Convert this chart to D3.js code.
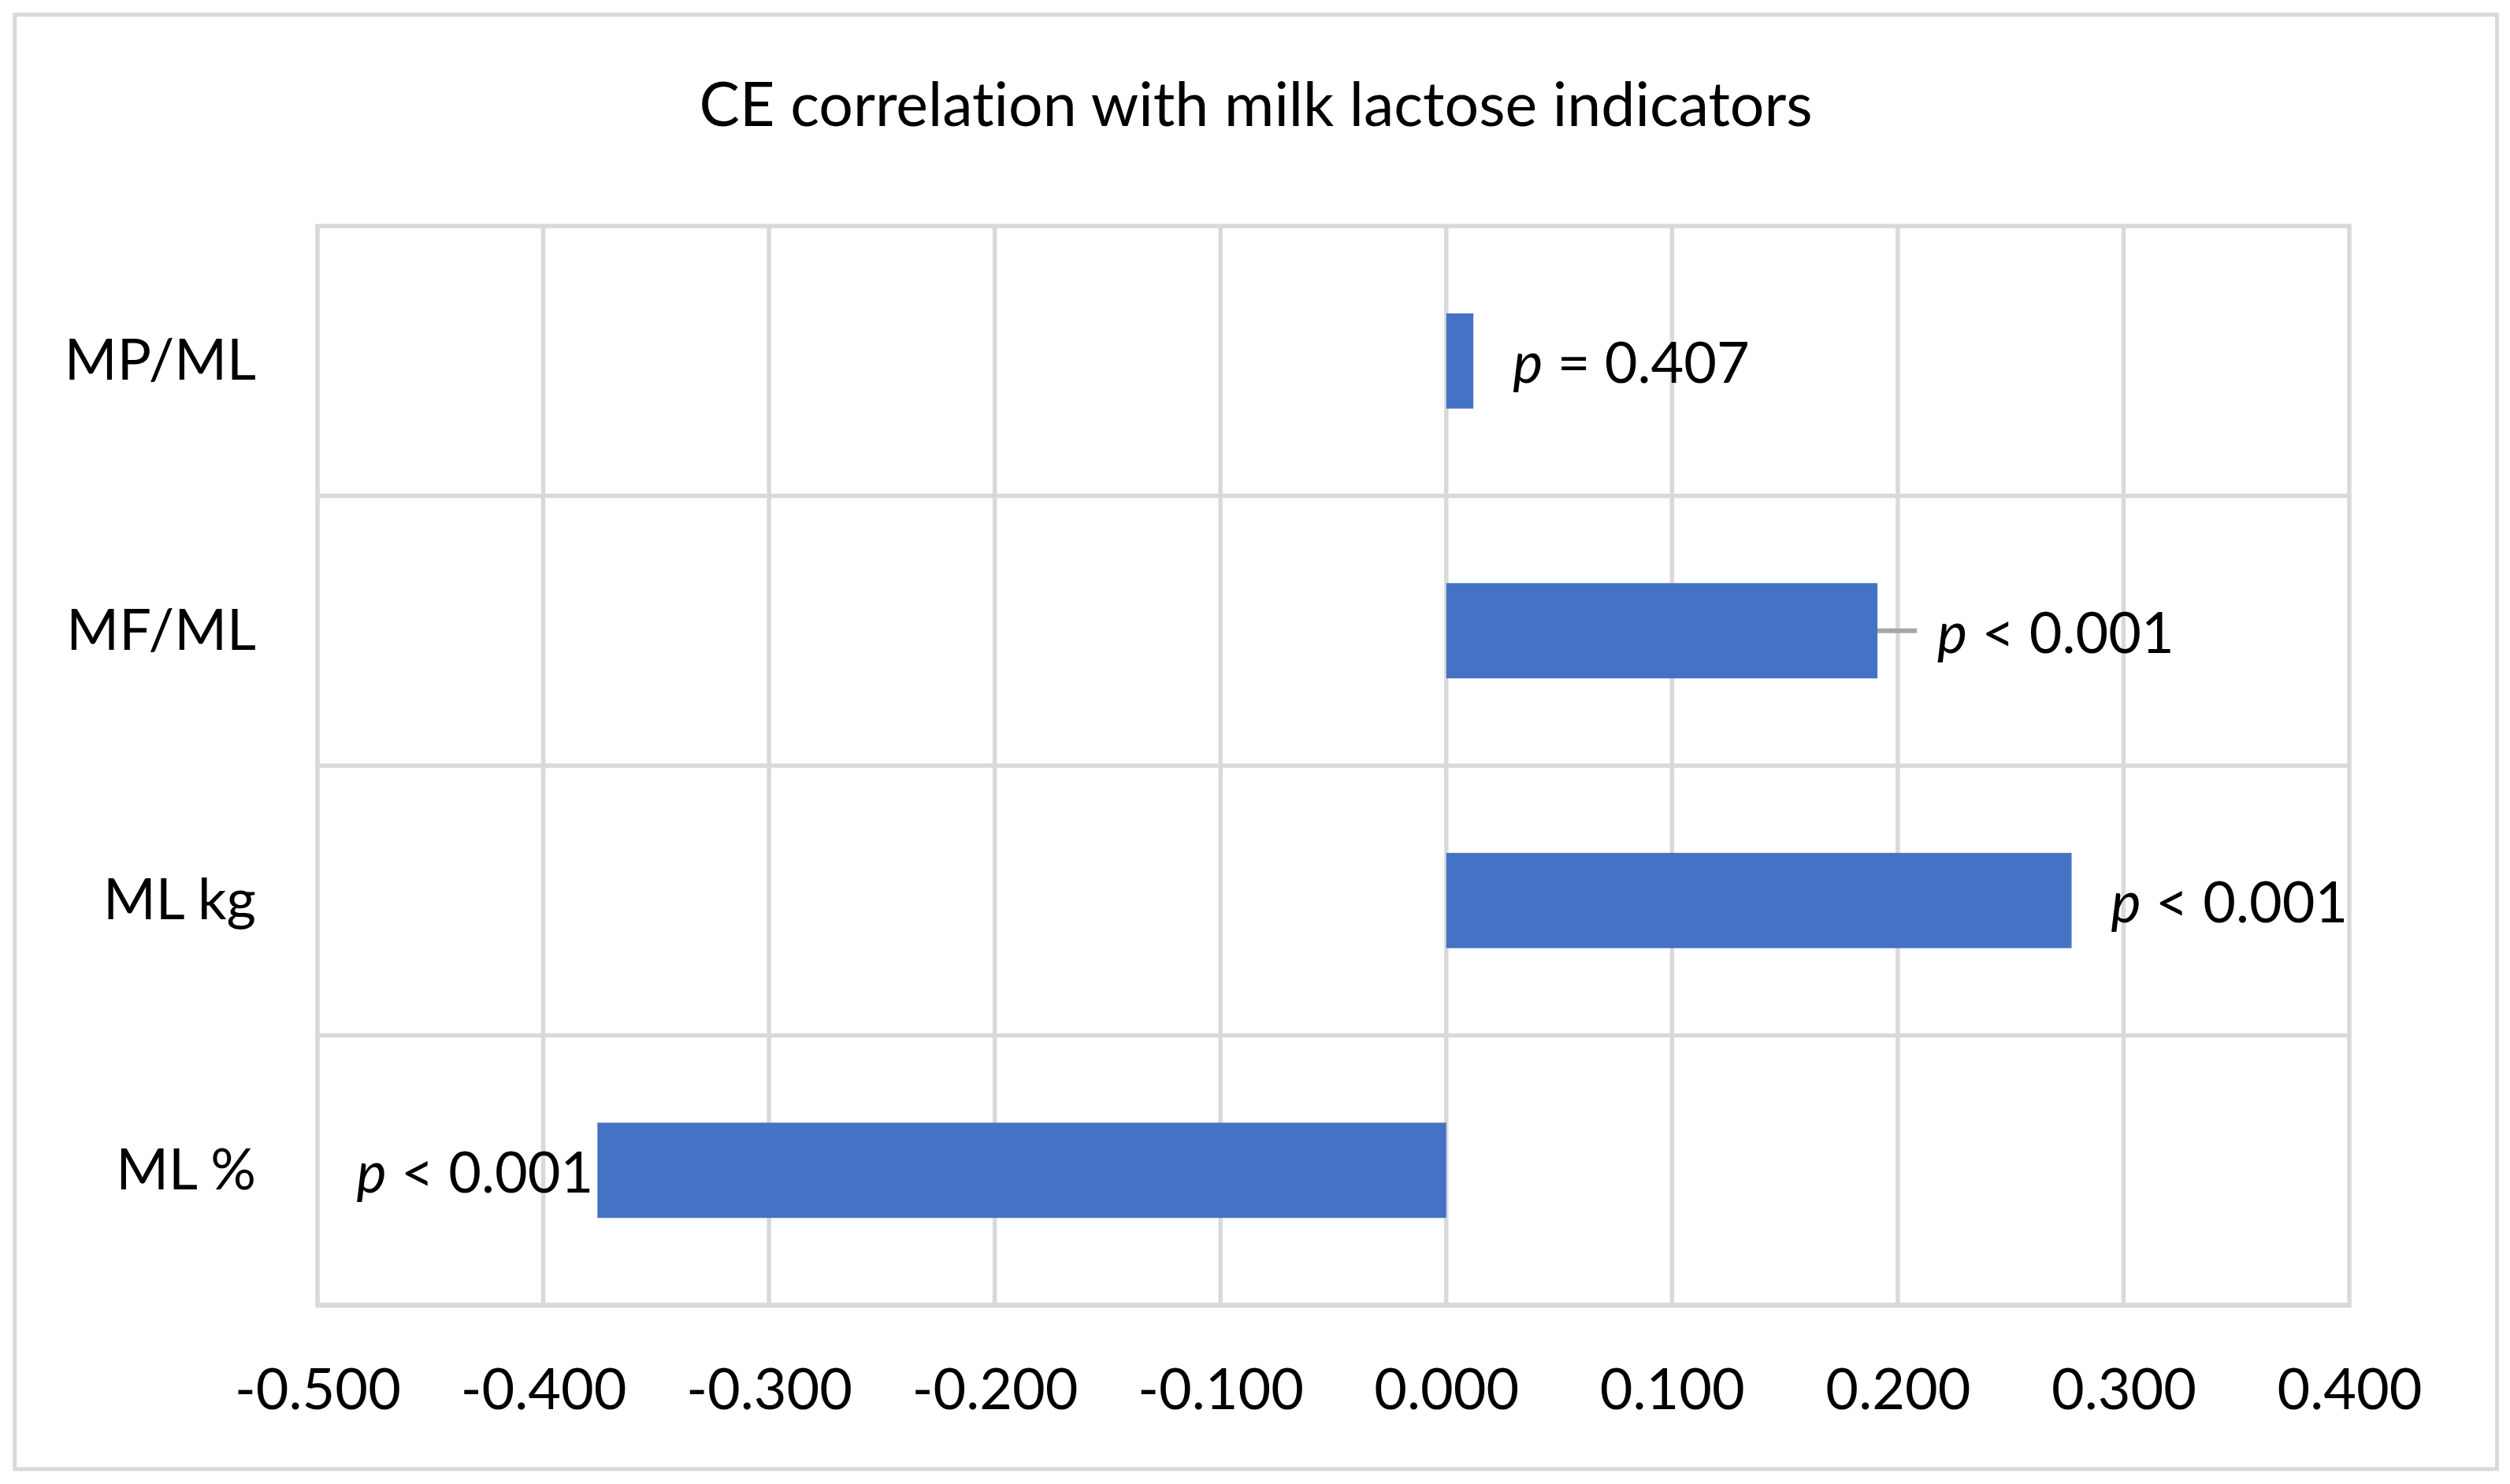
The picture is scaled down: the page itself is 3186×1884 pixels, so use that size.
<!DOCTYPE html>
<html>
<head>
<meta charset="utf-8">
<script src="https://cdn.jsdelivr.net/npm/d3@7"></script>
<style>
  body { margin: 0; background: #fff; }
  svg text { font-family: Lato, "Open Sans", sans-serif; fill: #000; font-variant-ligatures: none; }
</style>
</head>
<body>
<svg id="chart" width="3186" height="1884"></svg>
<script>
// chart data
var categories = ["MP/ML", "MF/ML", "ML kg", "ML %"];
var correlations = [0.012, 0.191, 0.277, -0.376];
var pValueText = ["= 0.407", "< 0.001", "< 0.001", "< 0.001"];
var xTickValues = [-0.5, -0.4, -0.3, -0.2, -0.1, 0, 0.1, 0.2, 0.3, 0.4];
var chartTitle = "CE correlation with milk lactose indicators";

// layout
var W = 3186, H = 1884;
var plot = {left: 403, right: 2982, top: 287, bottom: 1657};
var gridColor = "#d9d9d9";
var barColor = "#4472c4";
var fontSize = 72;
var titleSize = 77;
var labelGap = 50;
// the MF/ML label was dragged a bit right in the original, with a leader line
var movedLabels = {"MF/ML": 76};

var svg = d3.select("#chart");

var rows = categories.map(function(c, i){
  return {cat: c, value: correlations[i], p: pValueText[i]};
});

var x = d3.scaleLinear().domain([-0.5, 0.4]).range([plot.left, plot.right]);
var y = d3.scaleBand().domain(categories)
  .range([plot.top, plot.bottom])
  .paddingInner(0.647)
  .paddingOuter(0.3235);

var fmt = d3.formatLocale({decimal: ".", thousands: ",", grouping: [3], currency: ["", ""], minus: "-"}).format(".3f");

// outer chart border
svg.append("rect")
  .attr("x", 18.7).attr("y", 18.7)
  .attr("width", 3169.5 - 18.7).attr("height", 1865 - 18.7)
  .attr("fill", "#fff")
  .attr("stroke", gridColor)
  .attr("stroke-width", 5);

// title
svg.append("text")
  .attr("x", (18.7 + 3169.5) / 2)
  .attr("y", 160)
  .attr("text-anchor", "middle")
  .style("font-size", titleSize + "px")
  .text(chartTitle);

// vertical gridlines
svg.append("g").selectAll("line")
  .data(xTickValues)
  .enter().append("line")
  .attr("x1", function(d){ return x(d); })
  .attr("x2", function(d){ return x(d); })
  .attr("y1", plot.top)
  .attr("y2", plot.bottom)
  .attr("stroke", gridColor)
  .attr("stroke-width", 5.5);

// horizontal gridlines at category boundaries
var bounds = d3.range(categories.length + 1).map(function(i){
  return y.range()[0] + i * y.step();
});
svg.append("g").selectAll("line")
  .data(bounds)
  .enter().append("line")
  .attr("x1", plot.left - 2.75)
  .attr("x2", plot.right + 2.75)
  .attr("y1", function(d){ return d; })
  .attr("y2", function(d){ return d; })
  .attr("stroke", gridColor)
  .attr("stroke-width", function(d, i){ return i == categories.length ? 6.5 : 5.5; });

// bars
svg.append("g").selectAll("rect")
  .data(rows)
  .enter().append("rect")
  .attr("x", function(d){ return Math.min(x(0), x(d.value)); })
  .attr("width", function(d){ return Math.abs(x(d.value) - x(0)); })
  .attr("y", function(d){ return y(d.cat); })
  .attr("height", y.bandwidth())
  .attr("fill", barColor);

// leader lines for moved labels
svg.append("g").selectAll("line")
  .data(rows.filter(function(d){ return movedLabels[d.cat]; }))
  .enter().append("line")
  .attr("x1", function(d){ return x(d.value); })
  .attr("x2", function(d){ return x(d.value) + 50; })
  .attr("y1", function(d){ return y(d.cat) + y.bandwidth() / 2; })
  .attr("y2", function(d){ return y(d.cat) + y.bandwidth() / 2; })
  .attr("stroke", "#a6a6a6")
  .attr("stroke-width", 6);

// p-value labels
var labels = svg.append("g").selectAll("text")
  .data(rows)
  .enter().append("text")
  .attr("x", function(d){
    if (d.value < 0) return x(d.value) - 5;
    return x(d.value) + (movedLabels[d.cat] || labelGap);
  })
  .attr("y", function(d){ return y(d.cat) + y.bandwidth() / 2; })
  .attr("dy", "0.39em")
  .attr("text-anchor", function(d){ return d.value < 0 ? "end" : "start"; })
  .style("font-size", fontSize + "px");
labels.append("tspan").style("font-style", "italic").text("p");
labels.append("tspan").text(function(d){ return " " + d.p; });

// x axis labels
var xAxis = d3.axisBottom(x).tickValues(xTickValues).tickFormat(fmt).tickSize(0).tickPadding(0);
var gx = svg.append("g").attr("transform", "translate(0,1789)").call(xAxis);
gx.select(".domain").remove();
gx.selectAll("text")
  .attr("y", 0).attr("dy", null)
  .style("font-size", fontSize + "px")
  .attr("fill", "#000");

// category labels
var yAxis = d3.axisLeft(y).tickSize(0).tickPadding(0);
var gy = svg.append("g").attr("transform", "translate(325,0)").call(yAxis);
gy.select(".domain").remove();
gy.selectAll("text")
  .attr("dy", "0.33em")
  .style("font-size", fontSize + "px")
  .attr("fill", "#000");
gx.attr("font-family", null).attr("font-size", null);
gy.attr("font-family", null).attr("font-size", null);
</script>
</body>
</html>
